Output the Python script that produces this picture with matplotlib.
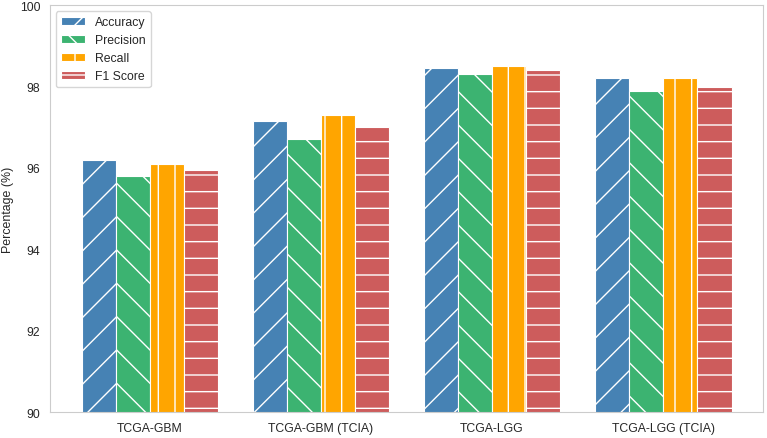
import matplotlib
matplotlib.use('Agg')
import matplotlib.pyplot as plt
import numpy as np
import seaborn as sns

categories = ['TCGA-GBM', 'TCGA-GBM (TCIA)', 'TCGA-LGG', 'TCGA-LGG (TCIA)']
metrics = ['Accuracy', 'Precision', 'Recall', 'F1 Score']
accuracy = [96.2, 97.15, 98.45, 98.2]
precision = [95.8, 96.7, 98.3, 97.9]
recall = [96.1, 97.3, 98.5, 98.2]
f1_score = [95.95, 97.0, 98.4, 98.0]

colors = ['steelblue', 'mediumseagreen', 'orange', 'indianred']
hatches = ['/', '\\', '|', '-']

sns.set_style('whitegrid')
plt.rcParams['font.family'] = ['Liberation Sans', 'DejaVu Sans']
plt.rcParams['hatch.color'] = 'white'

fig, ax = plt.subplots(figsize=(7.67, 4.39), dpi=100)
plt.subplots_adjust(left=0.065, right=0.995, top=0.986, bottom=0.059)

x = np.arange(len(categories))
width = 0.2
series = [accuracy, precision, recall, f1_score]
for i, vals in enumerate(series):
    ax.bar(x + (i - 1.5) * width, vals, width, label=metrics[i],
           color=colors[i], hatch=hatches[i], edgecolor='white', linewidth=0.8)

ax.set_ylim(90, 100)
ax.set_xlim(-0.585, 3.585)
ax.set_xticks(x)
ax.set_xticklabels(categories)
ax.tick_params(axis='both', labelsize=8.8, pad=7, length=0)
ax.set_ylabel('Percentage (%)', fontsize=8.9, labelpad=4)
ax.grid(False)
ax.legend(loc='upper left', fontsize=8.8)

plt.savefig('out.png', dpi=100)
